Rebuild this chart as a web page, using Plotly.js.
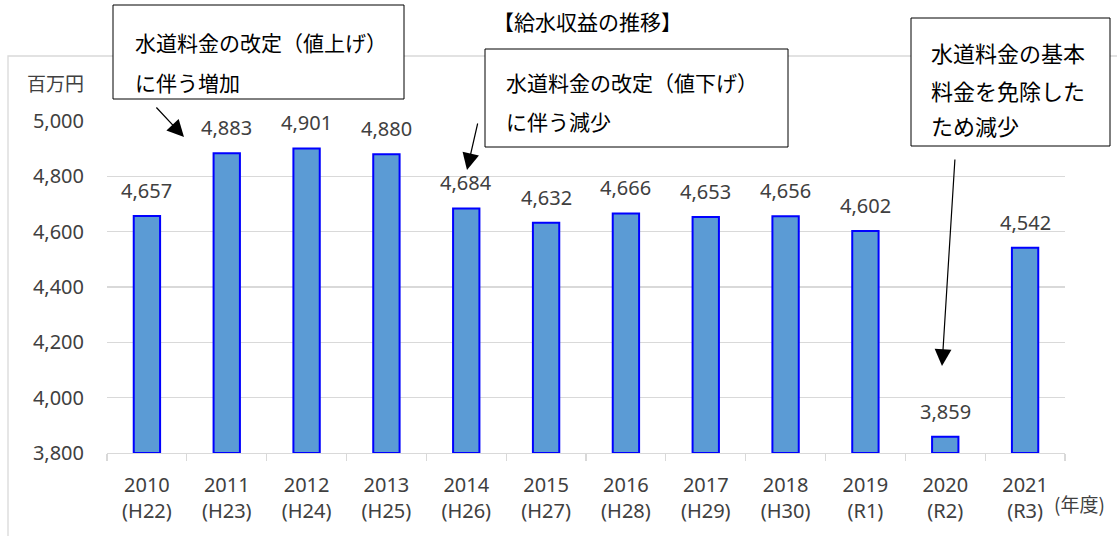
<!DOCTYPE html>
<html>
<head>
<meta charset="utf-8">
<script src="https://cdn.plot.ly/plotly-3.0.1.min.js"></script>
<style>html,body{margin:0;padding:0;background:#fff;}#chart{width:1117px;height:536px;}</style>
</head>
<body>
<div id="chart"></div>
<script>
// ---- data ----
var years = ['2010','2011','2012','2013','2014','2015','2016','2017','2018','2019','2020','2021'];
var eras = ['(H22)','(H23)','(H24)','(H25)','(H26)','(H27)','(H28)','(H29)','(H30)','(R1)','(R2)','(R3)'];
var revenue = [4657, 4883, 4901, 4880, 4684, 4632, 4666, 4653, 4656, 4602, 3859, 4542];
var yTicks = [3800, 4000, 4200, 4400, 4600, 4800, 5000];
var titleText = '【給水収益の推移】';
var unitText = '百万円';
var yearUnitText = '(年度)';
var note1 = ['水道料金の改定（値上げ）', 'に伴う増加'];
var note2 = ['水道料金の改定（値下げ）', 'に伴う減少'];
var note3 = ['水道料金の基本', '料金を免除した', 'ため減少'];

// ---- layout helpers (pixel -> paper) ----
var L = 107, R = 1065, T = 121, B = 453;
function px(x){ return (x - L) / (R - L); }
function py(y){ return (B - y) / (B - T); }

var cats = years.map(function(y, i){ return y + '<br>' + eras[i]; });
var numFont = 'Noto Sans, Open Sans, sans-serif';
var jpFont = 'Noto Sans CJK JP, sans-serif';

var trace = {
  type: 'bar',
  x: cats,
  y: revenue.map(function(v){ return v - 3800; }),
  base: 3800,
  marker: {color: '#5b9bd5', line: {color: '#0000ff', width: 2}},
  hoverinfo: 'skip'
};

var annotations = [];
// data labels
revenue.forEach(function(v, i){
  annotations.push({
    x: cats[i], y: v, xref: 'x', yref: 'y',
    text: v.toLocaleString('en-US'), showarrow: false,
    yanchor: 'bottom', yshift: 10,
    font: {family: numFont, size: 20, color: '#404040'}
  });
});
// title
annotations.push({xref:'paper', yref:'paper', x: px(587), y: py(4), text: titleText, showarrow:false,
  xanchor:'center', yanchor:'top', font:{family: jpFont, size: 21, color:'#000'}});
// unit
annotations.push({xref:'paper', yref:'paper', x: px(86), y: py(83), text: unitText, showarrow:false,
  xanchor:'right', yanchor:'middle', font:{family: jpFont, size: 19, color:'#404040'}});
annotations.push({xref:'paper', yref:'paper', x: px(1052), y: py(504), text: yearUnitText, showarrow:false,
  xanchor:'left', yanchor:'middle', font:{family: jpFont, size: 19, color:'#404040'}});

function addLines(lines, x, ys, size){
  lines.forEach(function(t, i){
    annotations.push({xref:'paper', yref:'paper', x: px(x), y: py(ys[i]), text: t, showarrow:false,
      xanchor:'left', yanchor:'middle', font:{family: jpFont, size: size, color:'#000'}});
  });
}
addLines(note1, 133, [42, 82], 21);
addLines(note2, 504, [82, 121], 21);
addLines(note3, 929, [52, 90, 125], 22);

function addArrow(tx, ty, sx, sy){
  annotations.push({xref:'paper', yref:'paper', x: px(tx), y: py(ty), ax: sx - tx, ay: sy - ty,
    text: '', showarrow: true, arrowhead: 2, arrowsize: 2.8, arrowwidth: 1.2, arrowcolor: '#000', standoff: 0});
}
addArrow(184, 137, 155, 106);
addArrow(467, 170, 478, 122);
addArrow(942, 366, 955, 158);

var shapes = [
  {type:'rect', xref:'paper', yref:'paper', x0: px(8), x1: px(1125), y0: py(545), y1: py(56),
    line:{color:'#d9d9d9', width:1.3}, fillcolor:'rgba(0,0,0,0)', layer:'below'},
  {type:'rect', xref:'paper', yref:'paper', x0: px(113), x1: px(404), y0: py(99), y1: py(5),
    line:{color:'#000', width:1}, fillcolor:'#fff'},
  {type:'rect', xref:'paper', yref:'paper', x0: px(485), x1: px(788), y0: py(147), y1: py(49),
    line:{color:'#000', width:1}, fillcolor:'#fff'},
  {type:'rect', xref:'paper', yref:'paper', x0: px(911), x1: px(1110), y0: py(146), y1: py(18),
    line:{color:'#000', width:1}, fillcolor:'#fff'}
];

var layout = {
  width: 1117, height: 536,
  margin: {l: L, r: 1117 - R, t: T, b: 536 - B, pad: 0},
  paper_bgcolor: '#fff', plot_bgcolor: '#fff',
  showlegend: false,
  bargap: 0.67,
  xaxis: {
    type: 'category', showline: true, linecolor: '#d9d9d9', linewidth: 1.3,
    ticks: 'outside', tickson: 'boundaries', ticklen: 7, tickcolor: '#d9d9d9', tickwidth: 1.3,
    ticklabelstandoff: 14,
    tickfont: {family: numFont, size: 20, color: '#404040'},
    showgrid: false, zeroline: false, fixedrange: true
  },
  yaxis: {
    range: [3800, 5000], tickvals: yTicks, tickformat: ',',
    showgrid: true, gridcolor: '#d9d9d9', gridwidth: 1.3,
    zeroline: false, showline: false, ticks: '',
    ticklabelstandoff: 22,
    tickfont: {family: numFont, size: 20, color: '#404040'},
    fixedrange: true
  },
  annotations: annotations,
  shapes: shapes
};

Plotly.newPlot('chart', [trace], layout, {displayModeBar: false, staticPlot: true});
</script>
</body>
</html>
